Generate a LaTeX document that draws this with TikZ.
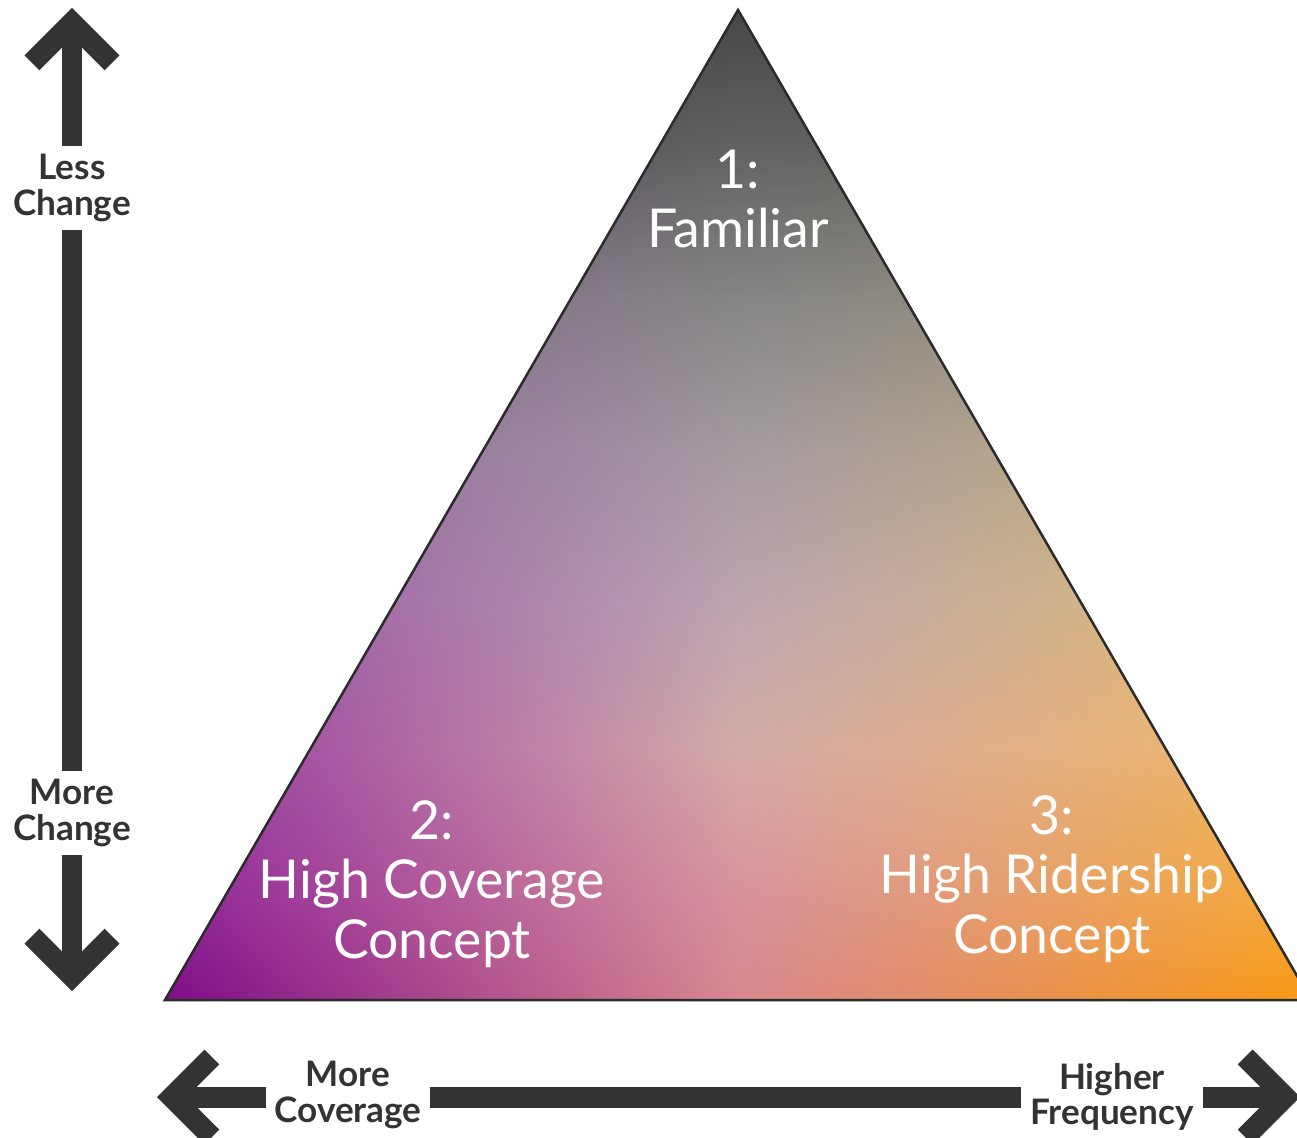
\documentclass[tikz,border=0pt]{standalone}
\usepackage{fontspec}
\setmainfont{Lato}
\usetikzlibrary{arrows.meta}

\newlength{\du}
\setlength{\du}{0.02cm}

\definecolor{axisgray}{rgb}{0.200000, 0.200000, 0.200000}
\definecolor{edgegray}{rgb}{0.170000, 0.170000, 0.170000}
% row colours of the body: left edge, centre, right edge
\definecolor{r0L}{HTML}{474747}\definecolor{r0M}{HTML}{474747}\definecolor{r0R}{HTML}{474747}
\definecolor{r1L}{HTML}{5E5C60}\definecolor{r1M}{HTML}{626262}\definecolor{r1R}{HTML}{626260}
\definecolor{r2L}{HTML}{857A88}\definecolor{r2M}{HTML}{868585}\definecolor{r2R}{HTML}{8E8A82}
\definecolor{r3L}{HTML}{9A80A0}\definecolor{r3M}{HTML}{A39BA0}\definecolor{r3R}{HTML}{B2A48E}
\definecolor{r4L}{HTML}{A472A8}\definecolor{r4M}{HTML}{BCA5B0}\definecolor{r4R}{HTML}{D2B48A}
\definecolor{r5L}{HTML}{A555A2}\definecolor{r5M}{HTML}{D4ACA8}\definecolor{r5R}{HTML}{EAB474}
\definecolor{r6L}{HTML}{962E98}\definecolor{r6M}{HTML}{D8929C}\definecolor{r6R}{HTML}{F2A840}
\definecolor{r7L}{HTML}{7E0C88}\definecolor{r7M}{HTML}{D8888F}\definecolor{r7R}{HTML}{FA9A14}

\tikzset{
  axis/.style={draw=axisgray, line width=0.42cm,
    {Straight Barb[length=0.8cm, width=1.6cm]}-{Straight Barb[length=0.8cm, width=1.6cm]}},
  axislabel/.style={fill=white, text=axisgray, align=center, inner sep=0.18cm,
    font=\bfseries\fontsize{20}{20}\selectfont},
  trilabel/.style={text=white, align=center, font=\fontsize{30.5}{34}\selectfont},
  triedge/.style={draw=edgegray, line width=0.05cm, line join=miter}
}

\begin{document}
\begin{tikzpicture}[x=\du, y=-\du]
\useasboundingbox (0,0) rectangle (1297,1138);

% triangle corners
\coordinate (apex) at (738,10);
\coordinate (bl) at (165,1000);
\coordinate (br) at (1311,1000);

% gradient body, in thin strips
\begin{scope}
\clip (apex) -- (bl) -- (br) -- cycle;
\foreach \ya/\yb/\ka/\kb in {10/150/r0/r1, 150/300/r1/r2, 300/450/r2/r3, 450/600/r3/r4,
    600/750/r4/r5, 750/900/r5/r6, 900/1000/r6/r7}{
  \pgfmathtruncatemacro\nstrip{(\yb-\ya)/5-1}
  \foreach \s in {0,...,\nstrip}{
    \pgfmathsetmacro\yy{\ya+\s*5}
    \pgfmathtruncatemacro\p{100-(\s*5+2.5)/(\yb-\ya)*100}
    \pgfmathsetmacro\half{(\yy-4)*0.578788+3}
    \shade[left color=\ka L!\p!\kb L, right color=\ka R!\p!\kb R, middle color=\ka M!\p!\kb M]
      (738-\half,\yy) rectangle (738+\half,\yy+6);
  }
}
\end{scope}
\draw[triedge] (apex) -- (bl) -- (br) -- cycle;

% labels inside
\node[trilabel] (familiar) at (738,199) {1:\\Familiar};
\node[trilabel] (coverage) at (432,884) {2:\\High Coverage\\Concept};
\node[trilabel] (ridership) at (1052,879) {3:\\High Ridership\\Concept};

% vertical axis
\coordinate (vtop) at (72,8);
\coordinate (vbot) at (72,991);
\draw[axis] (vtop) -- (vbot);
\node[axislabel] (lesschange) at (72,188) {Less\\Change};
\node[axislabel] (morechange) at (72,813) {More\\Change};

% horizontal axis
\coordinate (hleft) at (157,1097);
\coordinate (hright) at (1300,1097);
\draw[axis] (hleft) -- (hright);
\node[axislabel] (morecov) at (348,1095) {More\\Coverage};
\node[axislabel] (higherfreq) at (1112,1097) {Higher\\Frequency};
\end{tikzpicture}
\end{document}
